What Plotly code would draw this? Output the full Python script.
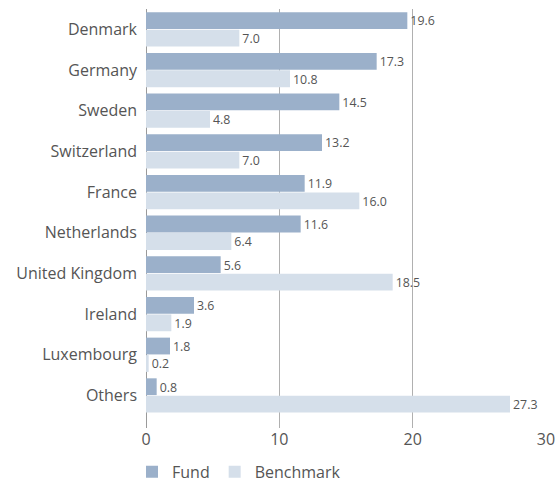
import plotly.graph_objects as go

countries = ["Denmark", "Germany", "Sweden", "Switzerland", "France", "Netherlands",
             "United Kingdom", "Ireland", "Luxembourg", "Others"]
fund = [19.6, 17.3, 14.5, 13.2, 11.9, 11.6, 5.6, 3.6, 1.8, 0.8]
benchmark = [7.0, 10.8, 4.8, 7.0, 16.0, 6.4, 18.5, 1.9, 0.2, 27.3]
x_ticks = [0, 10, 20, 30]

FONT = "Open Sans"
TXT = "#555555"

fig = go.Figure()
fig.add_trace(go.Bar(
    y=countries, x=fund, name="Fund", orientation="h",
    marker=dict(color="#9bb0ca", line=dict(width=0)),
    text=[f"{v:.1f}" for v in fund], textposition="outside",
    textfont=dict(family=FONT, size=14, color=TXT), cliponaxis=False,
))
fig.add_trace(go.Bar(
    y=countries, x=benchmark, name="Benchmark", orientation="h",
    marker=dict(color="#d5dfea", line=dict(width=0)),
    text=[f"{v:.1f}" for v in benchmark], textposition="outside",
    textfont=dict(family=FONT, size=14, color=TXT), cliponaxis=False,
))

fig.update_layout(
    width=559, height=490,
    margin=dict(l=146, r=13, t=9, b=62, autoexpand=False),
    barmode="group", bargap=0.14, bargroupgap=0.04,
    plot_bgcolor="white", paper_bgcolor="white",
    font=dict(family=FONT, size=16, color=TXT),
    showlegend=True,
    legend=dict(orientation="h", x=-0.035, y=0.037, xref="paper", yref="container",
                xanchor="left", yanchor="middle",
                font=dict(family=FONT, size=16, color=TXT),
                itemwidth=30, traceorder="normal"),
)
fig.update_xaxes(
    range=[0, 30], tickvals=x_ticks, showgrid=True, gridcolor="#b0b0b0", gridwidth=1,
    zeroline=True, zerolinecolor="#9a9a9a", zerolinewidth=1, automargin=False,
    showline=False, ticks="", tickfont=dict(family=FONT, size=16, color=TXT),
)
fig.update_yaxes(
    type="category", categoryorder="array", categoryarray=countries, automargin=False,
    range=[9.8, -0.5], showgrid=False, ticks="", ticklabelstandoff=8,
    tickfont=dict(family=FONT, size=16, color=TXT),
)

fig.write_html("out.html", config={"displayModeBar": False},
               post_script="document.body.style.margin='0';")
